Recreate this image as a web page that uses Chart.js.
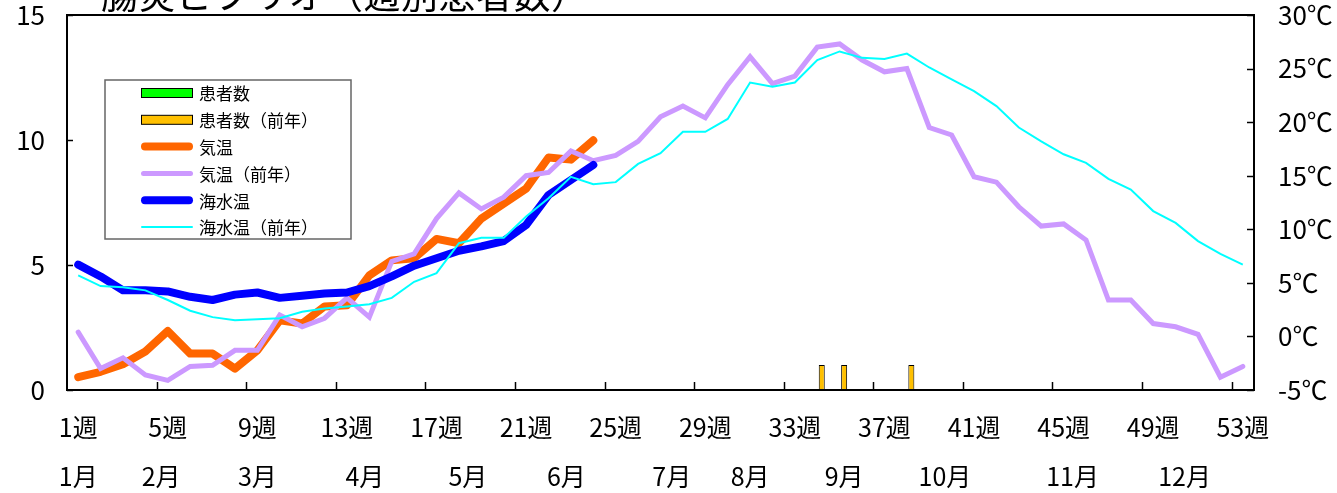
<!DOCTYPE html>
<html><head><meta charset="utf-8">
<script src="https://cdn.jsdelivr.net/npm/chart.js@4"></script>
<style>
html,body{margin:0;padding:0;background:#fff;overflow:hidden;}
#wrap{position:relative;width:1337px;height:493px;overflow:hidden;}
#title{position:absolute;left:101px;top:-25px;font-size:37px;line-height:37px;letter-spacing:0.5px;font-family:'Noto Sans CJK JP',sans-serif;white-space:nowrap;color:#000;}
</style></head><body>
<div id="wrap"><canvas id="c" width="1337" height="493"></canvas><div id="title">腸炎ビブリオ（週別患者数）</div></div>
<script>
const weekLabels = ['1週','2週','3週','4週','5週','6週','7週','8週','9週','10週','11週','12週','13週','14週','15週','16週','17週','18週','19週','20週','21週','22週','23週','24週','25週','26週','27週','28週','29週','30週','31週','32週','33週','34週','35週','36週','37週','38週','39週','40週','41週','42週','43週','44週','45週','46週','47週','48週','49週','50週','51週','52週','53週'];
const monthLabels = ['1月','2月','3月','4月','5月','6月','7月','8月','9月','10月','11月','12月'];
const monthPos = [0, 3.7, 8.0, 12.8, 17.4, 21.8, 26.5, 30.0, 34.2, 38.7, 44.4, 49.4];
const leftTicks = [0, 5, 10, 15];
const rightTicks = [-5, 0, 5, 10, 15, 20, 25, 30];

const patients = [0,0,0,0,0,0,0,0,0,0,0,0,0,0,0,0,0,0,0,0,0,0,0,0];
const patientsPrev = [0,0,0,0,0,0,0,0,0,0,0,0,0,0,0,0,0,0,0,0,0,0,0,0,0,0,0,0,0,0,0,0,0,1,1,0,0,1,0,0,0,0,0,0,0,0,0,0,0,0,0,0,0];
const airTemp = [-3.8,-3.3,-2.6,-1.4,0.5,-1.6,-1.6,-3.0,-1.3,1.5,1.2,2.8,2.9,5.7,7.1,7.3,9.1,8.7,11.0,12.4,13.8,16.7,16.5,18.3];
const airTempPrev = [0.4,-3.0,-2.0,-3.6,-4.1,-2.8,-2.7,-1.3,-1.3,2.0,0.9,1.7,3.6,1.8,7.0,7.7,11.0,13.4,11.9,13.0,15.0,15.3,17.3,16.4,16.9,18.2,20.5,21.5,20.4,23.5,26.1,23.6,24.3,27.0,27.3,25.8,24.7,25.0,19.5,18.8,14.9,14.4,12.1,10.3,10.5,9.0,3.4,3.4,1.2,0.9,0.2,-3.8,-2.8];
const seaTemp = [6.7,5.6,4.3,4.3,4.2,3.7,3.4,3.9,4.1,3.6,3.8,4.0,4.1,4.7,5.6,6.6,7.3,8.0,8.4,8.9,10.4,13.2,14.6,16.0];
const seaTempPrev = [5.7,4.7,4.6,4.3,3.4,2.4,1.8,1.5,1.6,1.7,2.3,2.6,2.8,3.0,3.6,5.1,5.9,8.7,9.2,9.2,11.2,12.9,14.9,14.2,14.4,16.1,17.1,19.1,19.1,20.3,23.7,23.3,23.7,25.8,26.6,26.0,25.9,26.4,25.1,24.0,22.9,21.5,19.5,18.2,17.0,16.2,14.7,13.7,11.7,10.6,8.9,7.7,6.7];

const FONT = "'Liberation Sans Narrow','Noto Sans CJK JP',sans-serif";

const framePlugin = {
  id: 'frame',
  afterDatasetsDraw(chart) {
    const {ctx, chartArea: a, scales} = chart;
    ctx.save();
    ctx.strokeStyle = '#000';
    ctx.lineWidth = 1.5;
    const xs = scales.x;
    for (let k = 4; k < weekLabels.length; k += 4) {
      const px = Math.round(xs.getPixelForValue(k - 0.5)) + 0.5;
      ctx.beginPath(); ctx.moveTo(px, a.bottom); ctx.lineTo(px, a.bottom - 8); ctx.stroke();
    }
    scales.y.ticks.forEach(t => {
      const py = Math.round(scales.y.getPixelForValue(t.value)) + 0.5;
      ctx.beginPath(); ctx.moveTo(a.left, py); ctx.lineTo(a.left + 6, py); ctx.stroke();
    });
    scales.y2.ticks.forEach(t => {
      const py = Math.round(scales.y2.getPixelForValue(t.value)) + 0.5;
      ctx.beginPath(); ctx.moveTo(a.right, py); ctx.lineTo(a.right - 7, py); ctx.stroke();
    });
    ctx.lineWidth = 2;
    ctx.strokeRect(a.left, a.top, a.right - a.left, a.bottom - a.top);
    ctx.restore();
  }
};

const legendPlugin = {
  id: 'boxLegend',
  afterDraw(chart) {
    const ctx = chart.ctx;
    const bx = 105, by = 80, bw = 246, bh = 159;
    ctx.save();
    ctx.fillStyle = '#fff';
    ctx.fillRect(bx, by, bw, bh);
    ctx.strokeStyle = '#666';
    ctx.lineWidth = 1.5;
    ctx.strokeRect(bx, by, bw, bh);
    chart.data.datasets.forEach((ds, i) => {
      const y = 93 + i * 26.8;
      if (ds.type === 'bar') {
        ctx.fillStyle = ds.backgroundColor;
        ctx.fillRect(141, y - 4.5, 52, 9);
        ctx.strokeStyle = '#000'; ctx.lineWidth = 1;
        ctx.strokeRect(141.5, y - 4.5, 51, 9);
      } else {
        ctx.strokeStyle = ds.borderColor;
        ctx.lineWidth = ds.borderWidth;
        ctx.lineCap = 'round';
        const r = ds.borderWidth / 2;
        ctx.beginPath(); ctx.moveTo(141 + r, y); ctx.lineTo(193 - r, y); ctx.stroke();
      }
      ctx.fillStyle = '#000';
      ctx.font = "17px 'Noto Sans CJK JP'";
      ctx.textBaseline = 'middle';
      ctx.fillText(ds.label, 199, y + 1);
    });
    ctx.restore();
  }
};

new Chart(document.getElementById('c'), {
  type: 'bar',
  data: {
    labels: weekLabels,
    datasets: [
      {type:'bar', label:'患者数', data: patients, backgroundColor:'#00FF00', borderColor:'#000', borderWidth:0, xAxisID:'x', yAxisID:'y', order:10, categoryPercentage:0.8, barPercentage:0.67},
      {type:'bar', label:'患者数（前年）', data: patientsPrev, backgroundColor:'#FFC000', borderColor:'#000', borderWidth:1, xAxisID:'x', yAxisID:'y', order:11, categoryPercentage:0.8, barPercentage:0.67},
      {type:'line', label:'気温', data: airTemp, borderColor:'#FF6600', borderWidth:8, pointRadius:0, borderCapStyle:'round', borderJoinStyle:'round', fill:false, xAxisID:'x', yAxisID:'y2', order:4},
      {type:'line', label:'気温（前年）', data: airTempPrev, borderColor:'#CC99FF', borderWidth:5, pointRadius:0, borderCapStyle:'round', borderJoinStyle:'miter', fill:false, xAxisID:'x', yAxisID:'y2', order:3},
      {type:'line', label:'海水温', data: seaTemp, borderColor:'#0000FF', borderWidth:8, pointRadius:0, borderCapStyle:'round', borderJoinStyle:'round', fill:false, xAxisID:'x', yAxisID:'y2', order:2},
      {type:'line', label:'海水温（前年）', data: seaTempPrev, borderColor:'#00FFFF', borderWidth:2, pointRadius:0, fill:false, xAxisID:'x', yAxisID:'y2', order:1}
    ]
  },
  options: {
    responsive: false,
    animation: false,
    layout: {padding: {top: 15, left: 0, right: 0, bottom: 0}},
    plugins: {legend: {display: false}, tooltip: {enabled: false}, title: {display: false}},
    scales: {
      x: {
        type: 'category', offset: true, weight: 0,
        grid: {display: false, drawTicks: false}, border: {display: false},
        ticks: {autoSkip: false, maxRotation: 0, minRotation: 0, padding: 22, color: '#000',
          font: {family: FONT, size: 25, lineHeight: 1.2},
          callback: (v, i) => (i % 4 === 0 ? weekLabels[i] : '')},
        afterFit(s) { s.height = 55; s.paddingLeft = 0; s.paddingRight = 0; }
      },
      xm: {
        type: 'linear', position: 'bottom', axis: 'x', min: -0.5, max: 52.5, weight: 1, offset: false, bounds: 'data',
        grid: {display: false, drawTicks: false, offset: false}, border: {display: false},
        afterBuildTicks(s) { s.ticks = monthPos.map(v => ({value: v})); },
        ticks: {autoSkip: false, maxRotation: 0, minRotation: 0, padding: 16, color: '#000',
          font: {family: FONT, size: 25, lineHeight: 1.2},
          callback: (v, i) => monthLabels[i]},
        afterFit(s) { s.height = 48; s.paddingLeft = 0; s.paddingRight = 0; }
      },
      y: {
        position: 'left', min: 0, max: 15,
        grid: {display: false, drawTicks: false}, border: {display: false},
        afterBuildTicks(s) { s.ticks = leftTicks.map(v => ({value: v})); },
        ticks: {padding: 22, color: '#000', font: {family: FONT, size: 26, lineHeight: 1}},
        afterFit(s) { s.width = 67; s.paddingTop = 0; s.paddingBottom = 0; }
      },
      y2: {
        position: 'right', min: -5, max: 30,
        grid: {display: false, drawTicks: false}, border: {display: false},
        afterBuildTicks(s) { s.ticks = rightTicks.map(v => ({value: v})); },
        ticks: {padding: 24, color: '#000', font: {family: FONT, size: 26, lineHeight: 1},
          callback: v => v + '℃'},
        afterFit(s) { s.width = 83; s.paddingTop = 0; s.paddingBottom = 0; }
      }
    }
  },
  plugins: [framePlugin, legendPlugin]
});
</script>
</body></html>
